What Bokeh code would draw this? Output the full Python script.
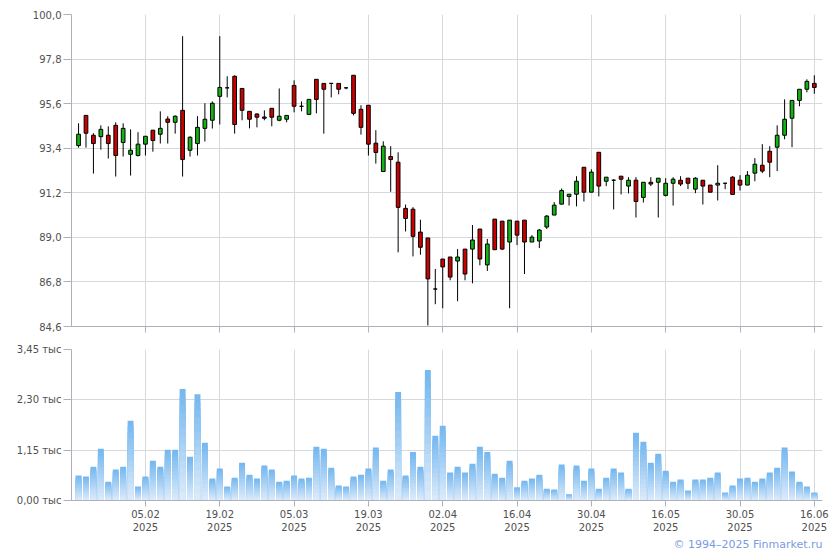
from bokeh.plotting import figure
from bokeh.layouts import column
from bokeh.models import FixedTicker, ColumnDataSource, Title, Range1d, CustomJSTickFormatter
from bokeh.embed import file_html
from bokeh.resources import INLINE

# ---------------- data ----------------
opens = [93.53, 95.02, 94.04, 93.97, 94.04, 94.53, 93.68, 93.10, 93.04, 93.60,
         94.29, 94.09, 94.84, 94.68, 95.27, 93.30, 93.63, 94.38, 94.78, 95.96,
         96.38, 96.95, 96.35, 95.22, 95.09, 94.94, 95.37, 94.78, 94.83, 96.50,
         95.47, 95.07, 96.80, 96.60, 96.60, 96.60, 96.38, 97.00, 95.32, 95.52,
         93.65, 92.25, 92.99, 92.71, 90.43, 90.39, 89.26, 88.97, 86.45, 87.93,
         88.03, 87.83, 88.42, 88.42, 89.41, 87.64, 89.90, 89.80, 88.77, 89.80,
         89.85, 88.77, 88.82, 89.51, 90.10, 90.64, 91.02, 91.13, 92.46, 91.23,
         93.20, 91.77, 91.82, 92.02, 91.53, 91.82, 90.97, 91.72, 91.72, 91.07,
         91.67, 91.82, 91.92, 91.38, 91.82, 91.58, 91.58, 91.67, 91.97, 91.82,
         91.58, 92.17, 92.56, 93.25, 93.45, 94.04, 94.88, 95.76, 96.31, 96.60]
highs = [94.63, 95.02, 94.14, 94.53, 94.48, 94.68, 94.63, 94.33, 94.19, 93.99,
         94.29, 95.22, 94.98, 95.02, 98.93, 93.99, 94.98, 95.62, 95.71, 98.93,
         96.95, 97.00, 96.35, 95.22, 95.12, 95.27, 95.37, 96.35, 95.02, 96.75,
         95.71, 95.81, 96.80, 96.60, 96.60, 96.60, 96.40, 97.00, 95.52, 95.52,
         94.29, 93.74, 93.50, 93.20, 90.62, 90.49, 89.87, 88.97, 87.44, 87.93,
         88.03, 88.42, 88.42, 89.61, 89.41, 88.92, 89.90, 89.80, 89.85, 89.80,
         89.85, 89.11, 89.41, 90.10, 90.74, 91.41, 91.13, 92.02, 92.46, 92.36,
         93.20, 91.97, 91.87, 92.02, 91.97, 91.97, 91.72, 91.97, 91.92, 91.92,
         91.97, 92.02, 91.92, 91.97, 91.82, 91.58, 92.56, 91.67, 92.02, 92.07,
         92.27, 92.91, 93.60, 93.50, 94.53, 95.81, 95.76, 96.31, 96.80, 97.00]
lows = [93.43, 93.43, 92.15, 93.33, 92.89, 92.00, 92.99, 92.05, 92.99, 93.04,
        93.23, 93.63, 93.63, 94.12, 92.00, 92.99, 93.04, 93.73, 94.37, 94.57,
        95.91, 94.12, 94.78, 94.38, 94.43, 94.78, 94.48, 94.73, 94.68, 95.17,
        95.22, 95.07, 95.12, 94.12, 95.91, 96.06, 96.31, 95.02, 94.07, 93.04,
        92.64, 92.25, 91.25, 88.26, 89.29, 88.06, 88.14, 84.65, 85.70, 85.50,
        86.88, 85.85, 86.88, 86.73, 87.62, 87.34, 88.39, 88.37, 85.50, 88.62,
        87.19, 88.77, 88.47, 89.41, 90.10, 90.64, 90.57, 90.53, 90.77, 91.23,
        91.02, 91.53, 90.38, 91.12, 91.17, 89.98, 90.72, 91.53, 89.98, 91.02,
        90.57, 91.53, 91.38, 91.18, 90.62, 91.23, 90.82, 91.38, 91.12, 91.31,
        91.58, 91.77, 92.17, 91.97, 92.27, 93.84, 93.45, 95.47, 96.16, 96.09]
closes = [94.09, 94.14, 93.63, 94.33, 93.63, 93.04, 94.38, 93.30, 93.60, 93.99,
          93.78, 94.38, 94.68, 94.98, 92.84, 93.94, 94.43, 94.83, 95.62, 96.40,
          96.38, 94.57, 95.27, 94.83, 94.93, 94.88, 94.93, 94.98, 95.02, 95.47,
          95.47, 95.81, 95.81, 96.31, 96.60, 96.31, 96.38, 95.12, 94.43, 93.60,
          93.19, 93.50, 92.84, 90.48, 89.93, 89.05, 88.51, 86.95, 86.45, 87.54,
          87.04, 88.03, 87.19, 88.87, 87.93, 88.67, 88.39, 88.42, 89.85, 89.11,
          88.77, 89.01, 89.36, 90.05, 90.59, 91.31, 91.13, 91.77, 91.23, 92.22,
          91.53, 91.97, 91.82, 91.87, 91.82, 90.77, 91.72, 91.63, 91.92, 91.67,
          91.87, 91.63, 91.67, 91.92, 91.53, 91.23, 91.67, 91.67, 91.12, 91.58,
          92.07, 92.61, 92.27, 92.71, 94.04, 94.83, 95.76, 96.31, 96.70, 96.40]
volumes = [0.57, 0.55, 0.77, 1.18, 0.43, 0.71, 0.77, 1.82, 0.32, 0.55,
           0.91, 0.77, 1.16, 1.16, 2.55, 1.00, 2.43, 1.32, 0.50, 0.73,
           0.32, 0.52, 0.86, 0.59, 0.50, 0.80, 0.71, 0.43, 0.45, 0.57,
           0.50, 0.52, 1.23, 1.18, 0.75, 0.34, 0.32, 0.55, 0.59, 0.73,
           1.21, 0.45, 0.71, 2.48, 0.57, 1.11, 0.77, 2.98, 1.48, 1.71,
           0.64, 0.77, 0.64, 0.84, 1.23, 1.11, 0.61, 0.52, 0.91, 0.30,
           0.45, 0.50, 0.59, 0.27, 0.25, 0.82, 0.14, 0.80, 0.45, 0.73,
           0.27, 0.52, 0.73, 0.64, 0.27, 1.55, 1.34, 0.86, 1.07, 0.68,
           0.43, 0.48, 0.23, 0.48, 0.48, 0.52, 0.64, 0.18, 0.34, 0.50,
           0.52, 0.43, 0.50, 0.64, 0.75, 1.21, 0.66, 0.43, 0.32, 0.18]
tick_dates = ["05.02", "19.02", "05.03", "19.03", "02.04", "16.04", "30.04", "16.05", "30.05", "16.06"]
tick_year = "2025"
price_ticks = [84.6, 86.8, 89.0, 91.2, 93.4, 95.6, 97.8, 100.0]
volume_ticks = [0.0, 1.15, 2.30, 3.45]
copyright_text = "\u00a9 1994\u20132025 Finmarket.ru"

# ---------------- derived ----------------
n = len(opens)
idx = list(range(n))
tick_pos = [9 + 10 * k for k in range(len(tick_dates))]   # one label every 10 sessions
UP, DOWN = "#12b412", "#cc0000"
src = ColumnDataSource(dict(
    x=idx, high=highs, low=lows,
    top=[max(o, c) for o, c in zip(opens, closes)],
    bottom=[min(o, c) for o, c in zip(opens, closes)],
    color=[UP if c >= o else DOWN for o, c in zip(opens, closes)],
))

FONT = "DejaVu Sans"
LBL = "#505050"
AXIS = "#aeb0bc"
GRID = "#d5d9dd"
XR = (-0.95, 100.1)


def style(p):
    p.outline_line_color = None
    p.background_fill_color = "white"
    p.border_fill_color = "white"
    for ax in (p.xaxis[0], p.yaxis[0]):
        ax.axis_line_color = AXIS
        ax.major_tick_line_color = AXIS
        ax.minor_tick_line_color = None
        ax.major_tick_in = 0
        ax.major_label_text_font = FONT
        ax.major_label_text_font_size = "10px"
        ax.major_label_text_color = LBL
    p.xaxis.major_tick_out = 6
    p.yaxis.major_tick_out = 8
    p.yaxis.major_label_standoff = 2
    p.xgrid.grid_line_color = GRID
    p.ygrid.grid_line_color = GRID


# ---------------- price panel ----------------
p1 = figure(width=830, height=338, x_range=Range1d(*XR), y_range=Range1d(84.6, 100.0),
            output_backend="svg", toolbar_location=None,
            min_border_left=71, min_border_right=8, min_border_top=14, min_border_bottom=12)
style(p1)
p1.xaxis.ticker = FixedTicker(ticks=tick_pos)
p1.xaxis.major_label_overrides = {t: "" for t in tick_pos}
p1.xaxis.major_label_standoff = 0
p1.yaxis.ticker = FixedTicker(ticks=price_ticks)
p1.yaxis.formatter = CustomJSTickFormatter(code="return tick.toFixed(1).replace('.', ',');")
p1.segment(x0="x", y0="low", x1="x", y1="high", line_color="black", line_width=1, source=src)
p1.vbar(x="x", width=0.5, top="top", bottom="bottom", fill_color="color",
        line_color="black", line_width=1, source=src)

# ---------------- volume panel ----------------
p2 = figure(width=830, height=212, x_range=p1.x_range, y_range=Range1d(0, 3.45),
            output_backend="svg", toolbar_location=None,
            min_border_left=71, min_border_right=8, min_border_top=11, min_border_bottom=47)
style(p2)
p2.xaxis.ticker = FixedTicker(ticks=tick_pos)
p2.xaxis.major_tick_out = 6
p2.xaxis.major_label_standoff = 2
p2.xaxis.major_label_overrides = {t: d + "\n" + tick_year for t, d in zip(tick_pos, tick_dates)}
p2.yaxis.ticker = FixedTicker(ticks=volume_ticks)
p2.yaxis.formatter = CustomJSTickFormatter(code="return tick.toFixed(2).replace('.', ',') + ' \u0442\u044b\u0441';")

# vertical gradient inside every bar: draw nested bars from the top colour down
c_top = (118, 184, 239)
c_bot = (226, 238, 251)
N = 14
gx, gtop, gcol = [], [], []
for k in range(N, 0, -1):
    f = k / N
    col = "#%02x%02x%02x" % tuple(int(round(b + (t - b) * f)) for t, b in zip(c_top, c_bot))
    for i, v in zip(idx, volumes):
        gx.append(i)
        gtop.append(v * f)
        gcol.append(col)
p2.vbar(x=gx, width=0.8, top=gtop, bottom=0, fill_color=gcol, line_color=None)

p2.add_layout(Title(text=copyright_text, align="right", text_font=FONT, text_font_size="11px",
                    text_font_style="normal", text_color="#7b9be0", standoff=0, offset=0), "below")

layout = column(p1, p2, spacing=0)
open("out.html", "w").write(file_html(layout, INLINE))
